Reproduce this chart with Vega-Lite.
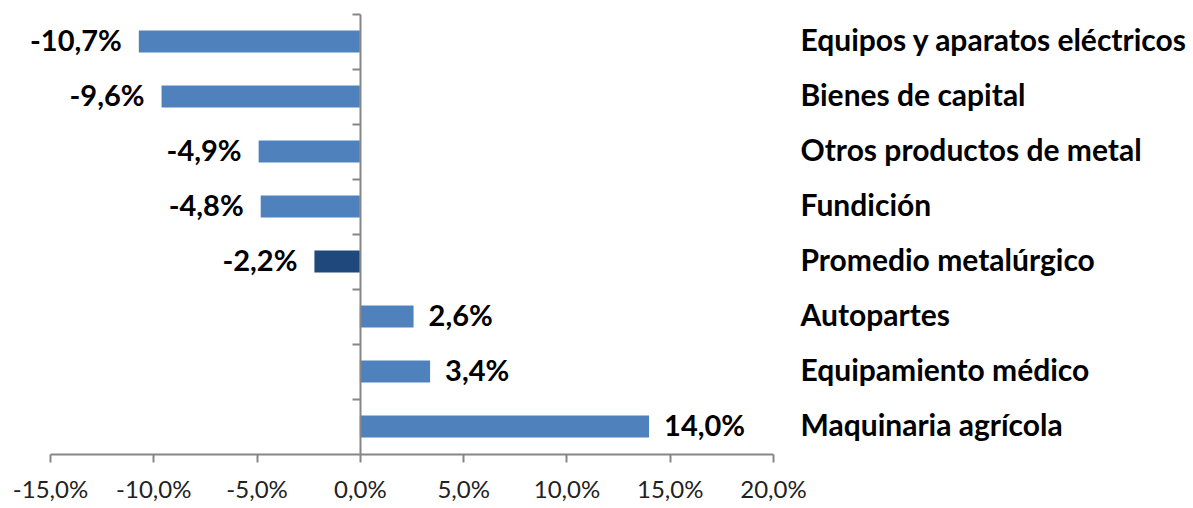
{
  "$schema": "https://vega.github.io/schema/vega-lite/v6.json",
  "autosize": "none",
  "width": 723,
  "height": 440,
  "padding": {"left": 50, "top": 14, "right": 420, "bottom": 54},
  "background": "white",
  "config": {"view": {"stroke": null}, "font": "Lato"},
  "data": {"values": [
    {"cat": "Equipos y aparatos eléctricos", "v": -10.7, "label": "-10,7%"},
    {"cat": "Bienes de capital", "v": -9.6, "label": "-9,6%"},
    {"cat": "Otros productos de metal", "v": -4.9, "label": "-4,9%"},
    {"cat": "Fundición", "v": -4.8, "label": "-4,8%"},
    {"cat": "Promedio metalúrgico", "v": -2.2, "label": "-2,2%"},
    {"cat": "Autopartes", "v": 2.6, "label": "2,6%"},
    {"cat": "Equipamiento médico", "v": 3.4, "label": "3,4%"},
    {"cat": "Maquinaria agrícola", "v": 14.0, "label": "14,0%"}
  ]},
  "encoding": {
    "y": {"field": "cat", "type": "nominal", "sort": null,
      "scale": {"paddingInner": 0.6, "paddingOuter": 0.3}},
    "x": {"field": "v", "type": "quantitative",
      "scale": {"domain": [-15, 20], "nice": false, "zero": false}}
  },
  "layer": [
    {
      "mark": {"type": "bar"},
      "encoding": {
        "y": {"field": "cat", "type": "nominal", "sort": null,
          "axis": {"orient": "left", "offset": -310, "title": null, "labels": false,
            "bandPosition": 0, "tickOffset": -16.5, "ticks": true, "tickSize": 8, "tickColor": "#868686",
            "tickWidth": 2, "domainColor": "#868686", "domainWidth": 2, "grid": false, "zindex": 1}},
        "x": {"field": "v", "type": "quantitative",
          "axis": {"title": null, "values": [-15, -10, -5, 0, 5, 10, 15, 20],
            "labelExpr": "(datum.value < 0 ? '-' : '') + replace(format(abs(datum.value), '.1f'), '.', ',') + '%'",
            "labelFontSize": 24, "labelColor": "#222222", "labelPadding": 16, "labelOverlap": false, "labelFlush": false,
            "tickSize": 8, "tickColor": "#868686", "tickWidth": 2,
            "domainColor": "#868686", "domainWidth": 2, "grid": false, "labelFont": "Lato"}},
        "x2": {"datum": 0},
        "color": {"field": "cat", "type": "nominal", "legend": null,
          "scale": {"domain": ["Equipos y aparatos eléctricos", "Bienes de capital", "Otros productos de metal", "Fundición", "Promedio metalúrgico", "Autopartes", "Equipamiento médico", "Maquinaria agrícola"],
            "range": ["#4F81BD", "#4F81BD", "#4F81BD", "#4F81BD", "#1F497D", "#4F81BD", "#4F81BD", "#4F81BD"]}}
      }
    },
    {
      "transform": [{"filter": "datum.v < 0"}],
      "mark": {"type": "text", "align": "right", "baseline": "middle", "dx": -17, "fontSize": 29, "fontWeight": "bold", "color": "#000000", "font": "Lato"},
      "encoding": {
        "text": {"field": "label"},
        "y": {"field": "cat", "type": "nominal", "sort": null,
          "axis": {"orient": "right", "offset": 27, "title": null, "ticks": false, "domain": false,
            "labelFontSize": 30, "labelFontWeight": "bold", "labelColor": "#000000",
            "labelAlign": "left", "labelPadding": 0, "labelLimit": 500, "labelFont": "Lato", "grid": false}}
      }
    },
    {
      "transform": [{"filter": "datum.v >= 0"}],
      "mark": {"type": "text", "align": "left", "baseline": "middle", "dx": 15, "fontSize": 29, "fontWeight": "bold", "color": "#000000", "font": "Lato"},
      "encoding": {
        "text": {"field": "label"},
        "y": {"field": "cat", "type": "nominal", "sort": null, "axis": null}
      }
    }
  ],
  "resolve": {"axis": {"y": "independent"}}
}
